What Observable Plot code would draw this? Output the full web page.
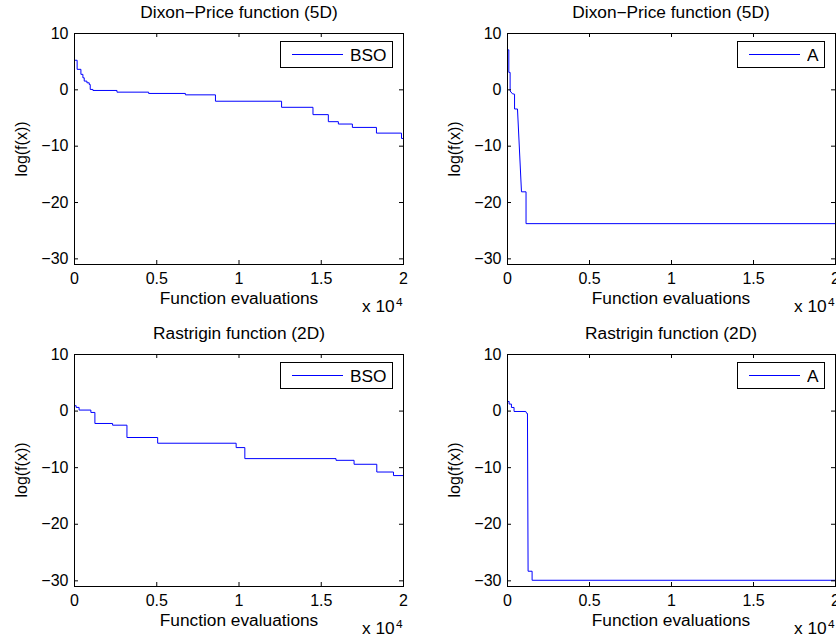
<!DOCTYPE html>
<html>
<head>
<meta charset="utf-8">
<script src="https://cdn.jsdelivr.net/npm/d3@7"></script>
<script src="https://cdn.jsdelivr.net/npm/@observablehq/plot@0.6"></script>
<style>
  html, body { margin: 0; padding: 0; background: #fff; overflow: hidden; }
  #fig { position: relative; width: 836px; height: 639px; overflow: hidden; background: #fff;
         font-family: "Liberation Sans", Arial, Helvetica, sans-serif; color: #000; }
  .t { position: absolute; white-space: nowrap; font-size: 16px; line-height: 16px; }
  .legend { position: absolute; box-sizing: border-box; border: 1px solid #000; background: #fff; }
  .legline { position: absolute; height: 1px; background: #0000ff; }
</style>
</head>
<body>
<div id="fig"></div>
<script>
// ---------- data ----------
const xTicks = [0, 5000, 10000, 15000, 20000];
const yTicks = [-30, -20, -10, 0, 10];
const xDomain = [0, 20000];
const yDomain = [-31, 10];

const titles = ["Dixon\u2212Price function (5D)", "Dixon\u2212Price function (5D)",
                "Rastrigin function (2D)", "Rastrigin function (2D)"];
const seriesNames = ["BSO", "A", "BSO", "A"];
const xLabel = "Function evaluations";
const yLabel = "log(f(x))";

// BSO, Dixon-Price (change points, step-after)
const bsoDixonX = [0, 0, 160, 390, 511, 591, 755, 895, 956, 1120, 2582, 4507, 6742, 8569,
                   12589, 14497, 15431, 16041, 16893, 18355, 19878, 20000];
const bsoDixonY = [10, 5.25, 3.64, 2.75, 2.14, 1.55, 1.25, 0.95, 0.07, -0.11, -0.41, -0.64, -0.89, -2.02,
                   -3.1, -4.4, -5.65, -6.07, -6.67, -7.68, -8.63, -8.63];

// A, Dixon-Price (corner points)
const aDixonX = [0, 0, 81, 81, 160, 160, 300, 430, 430, 609, 852, 1130, 1130, 20000];
const aDixonY = [10, 7.1, 7.1, 3.1, 3.1, -0.2, -0.7, -0.77, -3.4, -3.4, -18.1, -18.1, -23.75, -23.75];

// BSO, Rastrigin (change points, step-after)
const bsoRastX = [0, 0, 100, 280, 995, 1240, 2315, 3188, 5056, 9827, 10355, 15898, 16995, 18376, 19391, 20000];
const bsoRastY = [3.73, 0.95, 0.65, 0.18, -0.24, -2.19, -2.49, -4.67, -5.68, -6.45, -8.4, -8.7, -9.4, -10.77, -11.4, -11.4];

// A, Rastrigin (corner points)
const aRastX = [0, 0, 100, 100, 240, 240, 400, 400, 1115, 1175, 1217, 1255, 1500, 1500, 20000];
const aRastY = [3.6, 1.7, 1.7, 1.24, 1.24, 0.64, 0.64, -0.07, -0.07, -0.42, -0.42, -28.3, -28.3, -29.9, -29.9];

// ---------- layout ----------
const panels = [
  {xs: bsoDixonX, ys: bsoDixonY, curve: "step-after", left: 0,   top: 0,   width: 418, height: 320, mL: 74, mR: 15, mT: 33, mB: 56},
  {xs: aDixonX,   ys: aDixonY,   curve: "linear",     left: 432, top: 0,   width: 404, height: 320, mL: 75, mR: 1,  mT: 33, mB: 56},
  {xs: bsoRastX,  ys: bsoRastY,  curve: "step-after", left: 0,   top: 321, width: 418, height: 318, mL: 74, mR: 15, mT: 33, mB: 53},
  {xs: aRastX,    ys: aRastY,    curve: "linear",     left: 432, top: 321, width: 404, height: 318, mL: 75, mR: 1,  mT: 33, mB: 53}
];

const fig = document.getElementById("fig");
const fmtX = d => String(d / 1e4);
const fmtY = d => d < 0 ? "\u2212" + Math.abs(d) : String(d);
const TL = 4; // inward tick length, px

function addText(txt, x, baseline, mode, size) {
  const el = document.createElement("div");
  el.className = "t";
  const fs = size || 16;
  el.style.fontSize = fs + "px";
  el.style.lineHeight = fs + "px";
  el.style.left = x + "px";
  el.textContent = txt;
  if (mode === "center") {
    el.style.top = (baseline - fs * 0.845) + "px";
    el.style.transform = "translate(-50%, 0) scaleX(1.08)";
  } else if (mode === "rot") {
    el.style.top = baseline + "px";
    el.style.transform = "translate(-50%, -50%) rotate(-90deg)";
  } else {
    el.style.top = (baseline - fs * 0.845) + "px";
    el.style.transformOrigin = "0 50%";
    el.style.transform = "scaleX(1.08)";
  }
  fig.appendChild(el);
  return el;
}

panels.forEach((p, i) => {
  const pts = p.xs.map((x, k) => ({x, y: p.ys[k]}));
  const chart = Plot.plot({
    width: p.width, height: p.height,
    marginLeft: p.mL, marginRight: p.mR, marginTop: p.mT, marginBottom: p.mB,
    x: {domain: xDomain},
    y: {domain: yDomain},
    style: {fontSize: "16px", fontFamily: "'Liberation Sans', Arial, sans-serif",
            background: "transparent", color: "#000", overflow: "visible"},
    marks: [
      Plot.line(pts, {x: "x", y: "y", curve: p.curve, stroke: "#0000ff", strokeWidth: 1, clip: true}),
      Plot.axisX({ticks: xTicks, anchor: "bottom", tickSize: 0, tickPadding: 8, tickFormat: fmtX, label: null}),
      Plot.axisY({ticks: yTicks, anchor: "left", tickSize: 0, tickPadding: 6, tickFormat: fmtY, label: null}),
      // inward ticks on all four sides (MATLAB box style)
      Plot.ruleX(xTicks, {x: d => d, y1: yDomain[0], y2: yDomain[0], insetTop: -TL, stroke: "#000"}),
      Plot.ruleX(xTicks, {x: d => d, y1: yDomain[1], y2: yDomain[1], insetBottom: -TL, stroke: "#000"}),
      Plot.ruleY(yTicks, {y: d => d, x1: xDomain[0], x2: xDomain[0], insetRight: -TL, stroke: "#000"}),
      Plot.ruleY(yTicks, {y: d => d, x1: xDomain[1], x2: xDomain[1], insetLeft: -TL, stroke: "#000"}),
      Plot.frame({stroke: "#000", strokeWidth: 1})
    ]
  });
  chart.style.position = "absolute";
  chart.style.left = p.left + "px";
  chart.style.top = p.top + "px";
  chart.style.maxWidth = "none";
  fig.appendChild(chart);

  const pl = p.left + p.mL, pr = p.left + p.width - p.mR;
  const pt = p.top + p.mT, pb = p.top + p.height - p.mB;
  const cx = (pl + pr) / 2;

  addText(titles[i], cx, pt - 14.5, "center");
  addText(xLabel, cx, pb + 40.5, "center");
  addText("x 10", pr - 41, pb + 49, "left");
  addText("4", pr - 7, pb + 42, "left", 11);
  addText(yLabel, pl - 52, (pt + pb) / 2, "rot");

  // legend
  const name = seriesNames[i];
  const boxW = name.length > 1 ? 113 : 88;
  const box = document.createElement("div");
  box.className = "legend";
  box.style.left = (pr - boxW - 10) + "px";
  box.style.top = (pt + 8) + "px";
  box.style.width = boxW + "px";
  box.style.height = "27px";
  const ln = document.createElement("div");
  ln.className = "legline";
  ln.style.left = "11px";
  ln.style.width = "51px";
  ln.style.top = "12px";
  box.appendChild(ln);
  const tx = document.createElement("div");
  tx.className = "t";
  tx.style.left = "69px";
  tx.style.top = (19 - 13.5) + "px";
  tx.style.transformOrigin = "0 50%";
  tx.style.transform = "scaleX(1.08)";
  tx.textContent = name;
  box.appendChild(tx);
  fig.appendChild(box);
});
</script>
</body>
</html>
